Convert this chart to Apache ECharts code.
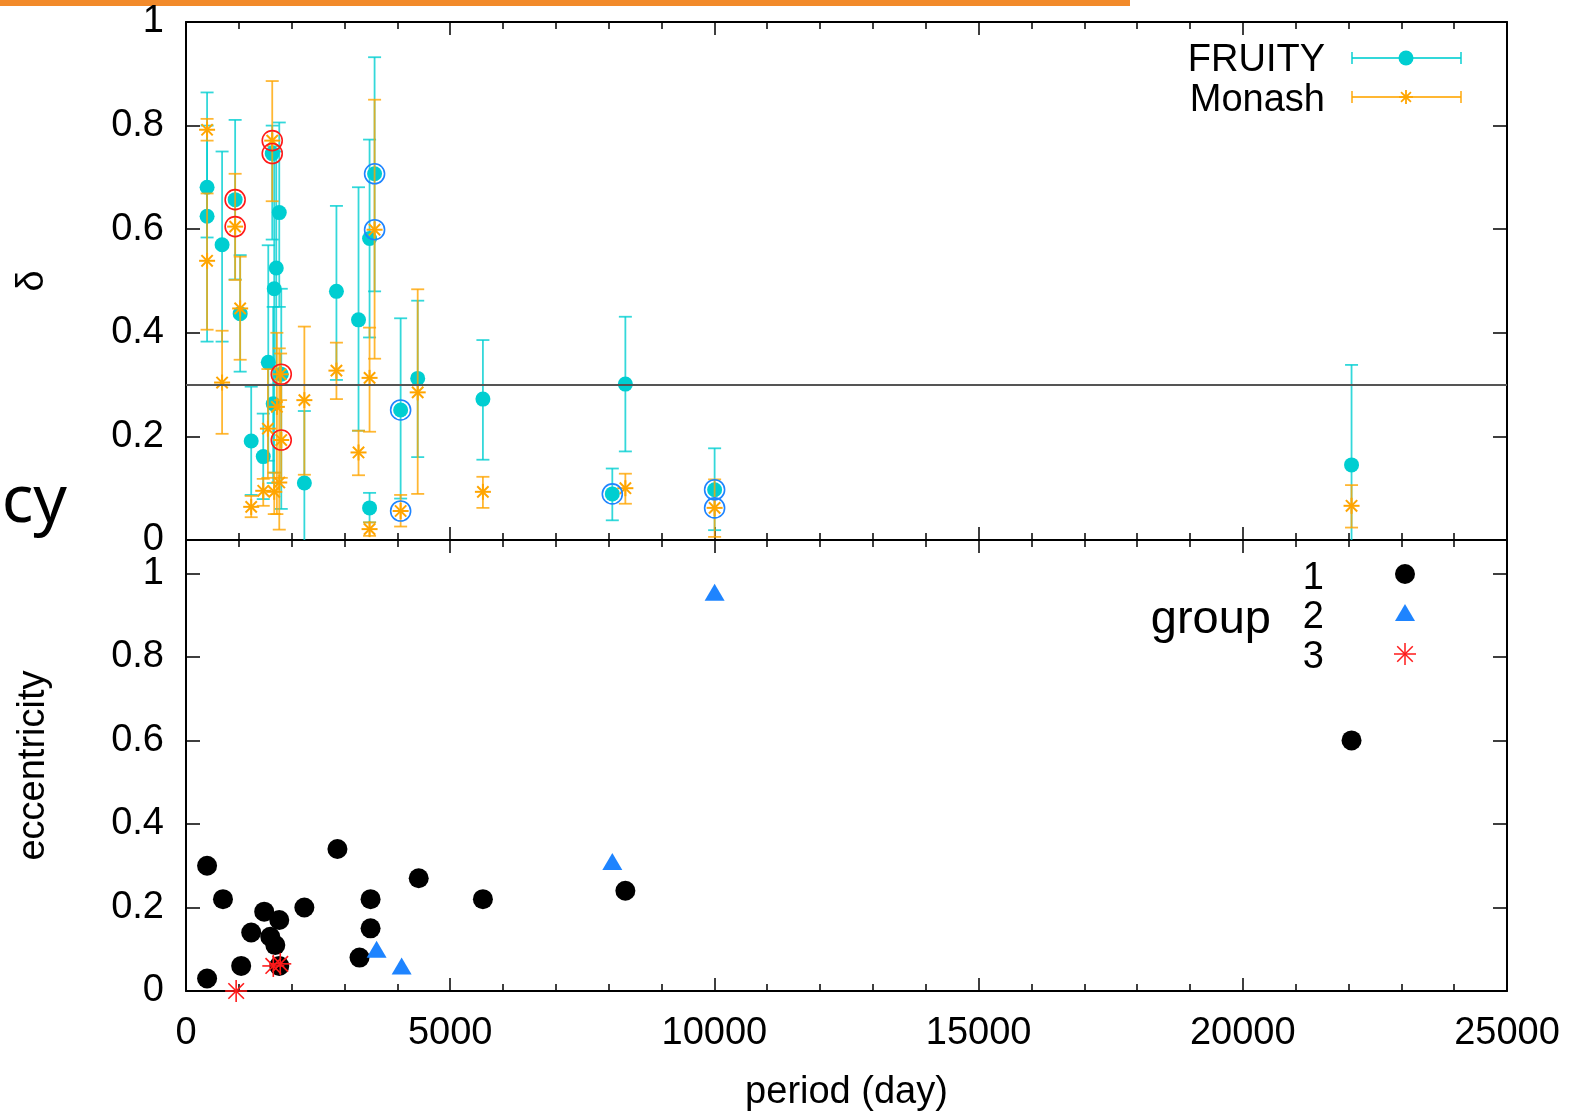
<!DOCTYPE html>
<html>
<head>
<meta charset="utf-8">
<script src="https://cdn.jsdelivr.net/npm/echarts@6/dist/echarts.min.js"></script>
<style>
  html, body { margin: 0; padding: 0; background: #fff; }
  #chart { width: 1572px; height: 1115px; }
</style>
</head>
<body>
<div id="chart"></div>
<script>
// x 轴刻度
const periodTicks = [0, 5000, 10000, 15000, 20000, 25000];
const deltaTicks = [0, 0.2, 0.4, 0.6, 0.8, 1];
const refDelta = 0.3;

// FRUITY: period, delta, 下限, 上限
const fruityPeriod = [399, 399, 683, 930, 1025, 1234, 1462, 1557, 1632, 1650, 1670, 1708, 1765, 1803, 2240, 2847, 3265, 3474, 3474, 3569, 4062, 4385, 5619, 8068, 8315, 10004, 22058];
const fruityDelta  = [0.681, 0.625, 0.570, 0.657, 0.437, 0.191, 0.161, 0.343, 0.746, 0.263, 0.485, 0.525, 0.632, 0.320, 0.110, 0.480, 0.425, 0.582, 0.062, 0.707, 0.251, 0.312, 0.272, 0.089, 0.301, 0.097, 0.145];
const fruityLow    = [0.584, 0.383, 0.383, 0.503, 0.325, 0.087, 0.079, 0.153, 0.580, 0.110, 0.130, 0.300, 0.450, 0.060, -0.05, 0.309, 0.211, 0.391, 0.034, 0.480, 0.080, 0.160, 0.155, 0.038, 0.171, 0.019, -0.05];
const fruityHigh   = [0.864, 0.800, 0.750, 0.811, 0.550, 0.296, 0.244, 0.569, 0.800, 0.450, 0.760, 0.750, 0.806, 0.485, 0.249, 0.645, 0.681, 0.773, 0.091, 0.932, 0.428, 0.462, 0.386, 0.138, 0.431, 0.177, 0.338];

// Monash
const monashPeriod = [399, 399, 683, 930, 1025, 1234, 1462, 1550, 1632, 1670, 1720, 1765, 1790, 1803, 2240, 2847, 3265, 3474, 3474, 3569, 4062, 4385, 5619, 8315, 10004, 22058];
const monashDelta  = [0.792, 0.539, 0.304, 0.605, 0.447, 0.064, 0.095, 0.215, 0.771, 0.093, 0.257, 0.111, 0.320, 0.193, 0.270, 0.327, 0.169, 0.313, 0.021, 0.599, 0.056, 0.285, 0.093, 0.100, 0.062, 0.066];
const monashLow    = [0.771, 0.406, 0.205, 0.502, 0.348, 0.044, 0.066, 0.120, 0.654, 0.050, 0.050, 0.020, 0.270, 0.120, 0.126, 0.272, 0.125, 0.209, 0.008, 0.350, 0.026, 0.089, 0.062, 0.070, 0.006, 0.024];
const monashHigh   = [0.813, 0.669, 0.404, 0.707, 0.547, 0.085, 0.118, 0.330, 0.886, 0.130, 0.400, 0.370, 0.360, 0.300, 0.412, 0.381, 0.211, 0.410, 0.034, 0.850, 0.087, 0.484, 0.122, 0.128, 0.117, 0.106];

// 分组圈注（上图）
const group3CircleP = [930, 930, 1632, 1632, 1803, 1803];
const group3CircleD = [0.657, 0.605, 0.746, 0.771, 0.320, 0.193];
const group2CircleP = [3569, 3569, 4062, 4062, 8068, 10004, 10004];
const group2CircleD = [0.707, 0.599, 0.251, 0.056, 0.089, 0.097, 0.062];

// 偏心率（下图）
const group1P = [399, 399, 700, 1044, 1234, 1480, 1595, 1690, 1765, 1765, 2240, 2866, 3284, 3493, 3493, 4404, 5619, 8315, 22058];
const group1E = [0.30, 0.03, 0.22, 0.06, 0.14, 0.19, 0.13, 0.11, 0.17, 0.06, 0.20, 0.34, 0.08, 0.22, 0.15, 0.27, 0.22, 0.24, 0.60];
const group2P = [3607, 4081, 8068, 10004];
const group2E = [0.10, 0.06, 0.31, 0.955];
const group3P = [949, 1652, 1784];
const group3E = [0.0, 0.06, 0.065];

const FONT = 'Liberation Sans';
const CYAN = '#00CED1';
const ORANGE = '#FFA500';
const BLUE = '#1E84FF';
const RED = '#FF1A1A';

const zip = (a, b) => a.map((v, i) => [v, b[i]]);

function errorBar(color) {
  return function (params, api) {
    const p = api.value(0);
    const lo = api.coord([p, api.value(2)]);
    const hi = api.coord([p, api.value(3)]);
    const w = 6.5;
    const style = { stroke: color, lineWidth: 1.8, opacity: 0.8 };
    return {
      type: 'group',
      children: [
        { type: 'line', shape: { x1: lo[0], y1: lo[1], x2: hi[0], y2: hi[1] }, style },
        { type: 'line', shape: { x1: lo[0] - w, y1: lo[1], x2: lo[0] + w, y2: lo[1] }, style },
        { type: 'line', shape: { x1: hi[0] - w, y1: hi[1], x2: hi[0] + w, y2: hi[1] }, style },
      ],
    };
  };
}

function asterisk(color, r, lw) {
  return function (params, api) {
    const c = api.coord([api.value(0), api.value(1)]);
    const d = r * 0.7071;
    const style = { stroke: color, lineWidth: lw };
    return {
      type: 'group',
      children: [
        { type: 'line', shape: { x1: c[0] - r, y1: c[1], x2: c[0] + r, y2: c[1] }, style },
        { type: 'line', shape: { x1: c[0], y1: c[1] - r, x2: c[0], y2: c[1] + r }, style },
        { type: 'line', shape: { x1: c[0] - d, y1: c[1] - d, x2: c[0] + d, y2: c[1] + d }, style },
        { type: 'line', shape: { x1: c[0] - d, y1: c[1] + d, x2: c[0] + d, y2: c[1] - d }, style },
      ],
    };
  };
}

function xAxisDef(gridIndex, position, withLabel) {
  return {
    type: 'value', gridIndex, position, min: 0, max: 25000, interval: 5000,
    axisLine: { show: true, onZero: false, lineStyle: { color: '#000', width: 2 } },
    axisTick: { show: true, inside: true, length: 13, lineStyle: { color: '#000', width: 1.5 } },
    minorTick: { show: true, splitNumber: 5, length: 7, lineStyle: { color: '#000', width: 1.5 } },
    axisLabel: { show: withLabel, margin: 24, fontSize: 38, fontFamily: FONT, color: '#000', formatter: v => String(v) },
    splitLine: { show: false },
  };
}

function yAxisDef(gridIndex, position, max, withLabel) {
  return {
    type: 'value', gridIndex, position, min: 0, max, interval: 0.2,
    axisLine: { show: true, onZero: false, lineStyle: { color: '#000', width: 2 } },
    axisTick: { show: true, inside: true, length: 14, lineStyle: { color: '#000', width: 1.5 } },
    axisLabel: {
      show: withLabel, margin: 22, fontSize: 38, fontFamily: FONT, color: '#000',
      showMaxLabel: max <= 1,
      formatter: v => (v > 1.001 ? '' : String(+v.toFixed(1))),
    },
    splitLine: { show: false },
  };
}

const chart = echarts.init(document.getElementById('chart'));

const xTop0 = xAxisDef(0, 'bottom', false);
const xTop1 = xAxisDef(0, 'top', false);
const xBot0 = Object.assign(xAxisDef(1, 'bottom', true), {
  name: 'period (day)', nameLocation: 'middle', nameGap: 83,
  nameTextStyle: { fontSize: 38, fontFamily: FONT, color: '#000' },
});
const xBot1 = xAxisDef(1, 'top', false);

const yTop0 = Object.assign(yAxisDef(0, 'left', 1, true), {
  name: 'δ', nameLocation: 'middle', nameGap: 134,
  nameTextStyle: { fontSize: 38, fontFamily: FONT, color: '#000' },
});
const yTop1 = yAxisDef(0, 'right', 1, false);
const yBot0 = Object.assign(yAxisDef(1, 'left', 1.08, true), {
  name: 'eccentricity', nameLocation: 'middle', nameGap: 133,
  nameTextStyle: { fontSize: 38, fontFamily: FONT, color: '#000' },
});
const yBot1 = yAxisDef(1, 'right', 1.08, false);

const legendLine = (y, color) => [
  { type: 'line', shape: { x1: 1352, y1: y, x2: 1461, y2: y }, style: { stroke: color, lineWidth: 1.8, opacity: 0.8 } },
  { type: 'line', shape: { x1: 1352, y1: y - 6, x2: 1352, y2: y + 6 }, style: { stroke: color, lineWidth: 1.8, opacity: 0.8 } },
  { type: 'line', shape: { x1: 1461, y1: y - 6, x2: 1461, y2: y + 6 }, style: { stroke: color, lineWidth: 1.8, opacity: 0.8 } },
];
const star = (cx, cy, r, color, lw) => {
  const d = r * 0.7071;
  const style = { stroke: color, lineWidth: lw };
  return [
    { type: 'line', shape: { x1: cx - r, y1: cy, x2: cx + r, y2: cy }, style },
    { type: 'line', shape: { x1: cx, y1: cy - r, x2: cx, y2: cy + r }, style },
    { type: 'line', shape: { x1: cx - d, y1: cy - d, x2: cx + d, y2: cy + d }, style },
    { type: 'line', shape: { x1: cx - d, y1: cy + d, x2: cx + d, y2: cy - d }, style },
  ];
};
const label = (text, x, y, size) => ({
  type: 'text', x, y,
  style: { text, fill: '#000', font: (size || 38) + 'px "' + FONT + '"', align: 'right', verticalAlign: 'middle' },
});

chart.setOption({
  animation: false,
  backgroundColor: '#fff',
  grid: [
    { left: 186, right: 65, top: 22, height: 518, outerBoundsMode: 'none' },
    { left: 186, right: 65, top: 540, height: 451, outerBoundsMode: 'none' },
  ],
  xAxis: [xTop0, xTop1, xBot0, xBot1],
  yAxis: [yTop0, yTop1, yBot0, yBot1],
  graphic: [
    { type: 'rect', shape: { x: 0, y: 0, width: 1130, height: 6 }, style: { fill: '#F28A2A' } },
    { type: 'text', x: 67, y: 503, style: { text: 'cy', fill: '#000', font: '66px "Noto Sans"', align: 'right', verticalAlign: 'middle' } },
    label('FRUITY', 1325, 61),
    label('Monash', 1325, 101),
    ...legendLine(58, CYAN),
    { type: 'circle', shape: { cx: 1406, cy: 58, r: 7.5 }, style: { fill: CYAN } },
    ...legendLine(97, ORANGE),
    ...star(1406, 97, 7, ORANGE, 1.8),
    label('1', 1324, 579),
    label('2', 1324, 618),
    label('group', 1271, 620, 47),
    label('3', 1324, 658),
    { type: 'circle', shape: { cx: 1405, cy: 574, r: 10 }, style: { fill: '#000' } },
    { type: 'polygon', shape: { points: [[1405, 604], [1415, 621], [1395, 621]] }, style: { fill: BLUE } },
    ...star(1405, 654, 11, RED, 1.5),
  ],
  series: [
    {
      type: 'custom', name: 'FRUITY bars', xAxisIndex: 0, yAxisIndex: 0, clip: true, silent: true,
      renderItem: errorBar(CYAN),
      data: fruityPeriod.map((p, i) => [p, fruityDelta[i], fruityLow[i], fruityHigh[i]]),
      markLine: {
        silent: true, symbol: 'none', label: { show: false },
        lineStyle: { color: '#555', width: 2, type: 'solid' },
        data: [{ yAxis: refDelta }],
      },
    },
    {
      type: 'scatter', name: 'FRUITY', xAxisIndex: 0, yAxisIndex: 0, silent: true,
      symbol: 'circle', symbolSize: 15, itemStyle: { color: CYAN, opacity: 1 },
      data: zip(fruityPeriod, fruityDelta),
    },
    {
      type: 'custom', name: 'Monash bars', xAxisIndex: 0, yAxisIndex: 0, clip: true, silent: true, z: 3,
      renderItem: errorBar(ORANGE),
      data: monashPeriod.map((p, i) => [p, monashDelta[i], monashLow[i], monashHigh[i]]),
    },
    {
      type: 'custom', name: 'Monash', xAxisIndex: 0, yAxisIndex: 0, silent: true, z: 4,
      renderItem: asterisk(ORANGE, 8, 2),
      data: zip(monashPeriod, monashDelta),
    },
    {
      type: 'scatter', name: 'group 3 circle', xAxisIndex: 0, yAxisIndex: 0, silent: true, z: 5,
      symbol: 'circle', symbolSize: 20,
      itemStyle: { color: 'rgba(0,0,0,0)', borderColor: RED, borderWidth: 1.6, opacity: 1 },
      data: zip(group3CircleP, group3CircleD),
    },
    {
      type: 'scatter', name: 'group 2 circle', xAxisIndex: 0, yAxisIndex: 0, silent: true, z: 5,
      symbol: 'circle', symbolSize: 20,
      itemStyle: { color: 'rgba(0,0,0,0)', borderColor: BLUE, borderWidth: 1.6, opacity: 1 },
      data: zip(group2CircleP, group2CircleD),
    },
    {
      type: 'scatter', name: '1', xAxisIndex: 2, yAxisIndex: 2, silent: true, clip: false,
      symbol: 'circle', symbolSize: 20, itemStyle: { color: '#000', opacity: 1 },
      data: zip(group1P, group1E),
    },
    {
      type: 'scatter', name: '2', xAxisIndex: 2, yAxisIndex: 2, silent: true, clip: false, z: 3,
      symbol: 'triangle', symbolSize: [20, 17], itemStyle: { color: BLUE, opacity: 1 },
      data: zip(group2P, group2E),
    },
    {
      type: 'custom', name: '3', xAxisIndex: 2, yAxisIndex: 2, silent: true, clip: false, z: 6,
      renderItem: asterisk(RED, 11, 1.6),
      data: zip(group3P, group3E),
    },
  ],
});
</script>
</body>
</html>
